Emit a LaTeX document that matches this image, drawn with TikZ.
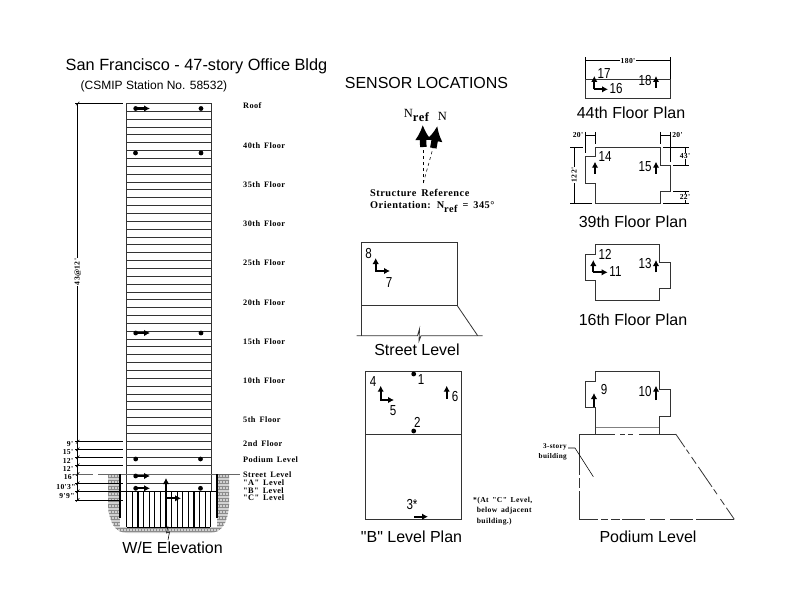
\documentclass[tikz,border=0pt]{standalone}
\usepackage{fontspec}
\setmainfont{Liberation Sans}
\newfontfamily\plainfont{Liberation Sans}
\newfontfamily\numfont{Liberation Sans}[FakeStretch=0.8]
\newfontfamily\labelfont{Liberation Serif}[LetterSpace=5,WordSpace=1.6,BoldFont={Liberation Serif Bold}]
\usetikzlibrary{arrows.meta,positioning}
\tikzset{
  plan/.style={draw=black!80, line width=0.8bp},
  thin line/.style={draw=black, line width=0.55bp},
  sensor/.style={-{Latex[length=6bp, width=6.5bp]}, line width=2.1bp, draw=black},
  north arrow/.style={-{Latex[length=15bp, width=16.5bp]}, line width=6.5bp},
  dot/.style={circle, fill=black, inner sep=0pt, minimum size=4.8bp},
  title/.style={font=\plainfont\fontsize{16bp}{18bp}\selectfont, inner sep=0pt},
  num/.style={font=\numfont\fontsize{14.5bp}{16bp}\selectfont, inner sep=0pt},
  floorlabel/.style={font=\labelfont\bfseries\fontsize{8.3bp}{9bp}\selectfont, anchor=west, inner sep=0pt},
  dimlabel/.style={font=\labelfont\bfseries\fontsize{7.6bp}{9bp}\selectfont, inner sep=0.6bp},
  notelabel/.style={font=\labelfont\bfseries\fontsize{7.6bp}{10.4bp}\selectfont, inner sep=0pt, align=left}
}
\newcommand{\refsub}{\raisebox{-4bp}{\bfseries ref}}
\begin{document}
\begin{tikzpicture}[x=1bp, y=-1bp]
\useasboundingbox (0,0) rectangle (792,612);
\fill[white] (0,0) rectangle (792,612);
% titles
\node[title, font=\fontsize{16.3bp}{18bp}\selectfont] (title1) at (196.5,66) {San Francisco - 47-story Office Bldg};
\node[font=\fontsize{12bp}{14bp}\selectfont, inner sep=0pt] (station) at (154,86) {(CSMIP Station No. 58532)};
\node[title] (title2) at (426.5,83) {SENSOR LOCATIONS};
% ground around the basement
\begin{scope}
\clip (108,474) -- (108,505) .. controls (109,522) and (115,533) .. (127,533) -- (210,533) .. controls (222,533) and (228,522) .. (229,505) -- (229,474) -- cycle;
\fill[black!18] (100,470) rectangle (235,536);
\foreach \i in {0,...,20} \draw[black!45, line width=0.6bp] (100,474+\i*3) -- (235,474+\i*3);
\foreach \i in {0,...,45} \draw[black!45, line width=0.6bp, dash pattern=on 3bp off 3bp] (102+\i*3,474) -- (102+\i*3,536);
\end{scope}
\fill[white] (120,474) rectangle (217.3,527);
% elevation
\foreach \i in {0,...,43} \draw[plan] (126.5,103.5+\i*7.85) -- (211,103.5+\i*7.85);
\foreach \y in {449.3,457.3,465.3,483.3} \draw[plan] (126.5,\y) -- (211,\y);
\draw[plan] (126.5,103.5) -- (126.5,491.5);
\draw[plan] (211,103.5) -- (211,491.5);
\draw[draw=black!60, line width=0.8bp] (98,474) -- (240,474);
\draw[draw=black!60, line width=0.8bp, dash pattern=on 20bp off 5bp] (73,474) -- (98,474);
\draw[line width=2.2bp] (120,474) -- (120,518);
\draw[line width=2.2bp] (217.3,474) -- (217.3,518);
\draw[line width=1.2bp] (120,491.5) -- (217.3,491.5);
\foreach \i in {0,...,15} \draw[line width=1.2bp] (126.7+\i*5.6,491.5) -- (126.7+\i*5.6,527);
\draw[thin line] (127,527) -- (210,527);
\draw[thin line] (168,526) -- (166.5,533) -- (169.5,532) -- (168,540);
% height dimensions
\draw[thin line] (77.7,103.5) -- (77.7,500);
\draw[thin line] (75,103.5) -- (123,103.5);
\foreach \y in {441.7,449.3,457.3,465.3,483.3,491.3,500} \draw[thin line] (75,\y) -- (123,\y);
\foreach \y in {103.5,441.7,449.3,457.3,465.3,474,483.3,491.3,500} \draw[thin line] (76,\y+1.8) -- (79.4,\y-1.8);
\node[dimlabel, rotate=90, fill=white] (typical) at (77.7,272) {43@12'};
\node[dimlabel] (dim1) at (70,444) {9'};
\node[dimlabel] (dim2) at (68,452) {15'};
\node[dimlabel] (dim3) at (68,461) {12'};
\node[dimlabel] (dim4) at (68,469) {12'};
\node[dimlabel] (dim5) at (69,477) {16'};
\node[dimlabel] (dim6) at (66,487) {10'3"};
\node[dimlabel] (dim7) at (67,496) {9'9"};
% floor names
\foreach \y/\txt in {105/Roof,145/40th Floor,184/35th Floor,223/30th Floor,262/25th Floor,302/20th Floor,341/15th Floor,380/10th Floor,419/5th Floor,443/2nd Floor,459/Podium Level,474/Street Level,482/"A" Level,489.5/"B" Level,497/"C" Level}
  \node[floorlabel] at (243,\y+1) {\txt};
% sensors on the elevation
\foreach \y in {108.5,333,476,488.3} {
  \node[dot] at (135.7,\y) {};
  \draw[sensor] (135.7,\y) -- (150,\y);
}
\foreach \x/\y in {201/108.5,135.5/153,201/153,201/333,135.7/459,200.5/459,200.5/488.3} \node[dot] at (\x,\y) {};
\draw[sensor] (166,492) -- (166,478);
\draw[line width=1.2bp] (166,491) -- (166,498);
\draw[sensor] (166,498.3) -- (181,498.3);
\node[title] (elev) at (172.5,548) {W/E Elevation};
% north arrows
\draw[thin line, dashed] (423.3,183) -- (423.3,146);
\draw[thin line, dashed] (423.3,183) -- (433.3,147);
\draw[north arrow] (423.3,147) -- (422.7,125);
\draw[north arrow] (433.3,148) -- (437.3,126);
\node[font=\labelfont\fontsize{12.5bp}{13bp}\selectfont, inner sep=0pt] (nref) at (416.5,115) {N\refsub};
\node[font=\labelfont\fontsize{12.5bp}{13bp}\selectfont, inner sep=0pt] (nnorth) at (442.5,116) {N};
\node[notelabel, font=\labelfont\bfseries\fontsize{10.3bp}{12bp}\selectfont, anchor=north west] (orient) at (370,189.5) {Structure Reference\\Orientation: N\refsub{} = 345°};
% street level
\draw[plan] (361.7,335.7) -- (361.7,242.3) -- (457.3,242.3) -- (457.3,305.7) -- (361.7,305.7);
\draw[plan] (457.3,305.7) -- (477.7,335.7);
\draw[plan] (356.7,335.7) -- (417.5,335.7) -- (419.5,329) -- (419,341) -- (421,335.7) -- (482.7,335.7);
\draw[sensor] (375.7,271) -- (375.7,258);
\draw[sensor] (375,271) -- (390,271);
\node[num] (s8) at (368.5,254) {8};
\node[num] (s7) at (389,282.5) {7};
\node[title] (title3) at (417,350) {Street Level};
% B level
\draw[plan] (365.7,371) rectangle (461.3,519);
\draw[plan] (365.7,434) -- (461.3,434);
\node[dot] (d1) at (413.7,374) {};
\node[dot] (d2) at (413.7,431) {};
\node[num] (s1) at (421,380) {1};
\node[num] (s2) at (417.3,422) {2};
\node[num] (s4) at (373,382) {4};
\node[num] (s5) at (393,411) {5};
\node[num] (s6) at (455,397) {6};
\node[num] (s3) at (412,505) {3*};
\draw[sensor] (380.7,400) -- (380.7,385.7);
\draw[sensor] (380,400) -- (394,400);
\draw[sensor] (446.7,398.5) -- (446.7,385.7);
\draw[sensor] (414,516.7) -- (428,516.7);
\node[notelabel, anchor=north west] (note) at (473,497) {*(At "C" Level,\\\ below adjacent\\\ building.)};
\node[title] (title4) at (411.5,537) {"B" Level Plan};
% 44th floor
\draw[plan] (585.7,79.3) rectangle (670,98.3);
\draw[thin line] (585.7,60.7) -- (670,60.7);
\draw[thin line] (585.7,57.5) -- (585.7,79);
\draw[thin line] (670,57.5) -- (670,79);
\node[dimlabel, fill=white] (d180) at (628,60.7) {180'};
\draw[sensor] (594.3,89.3) -- (594.3,76);
\draw[sensor] (593.6,89.3) -- (608,89.3);
\draw[sensor] (656,88) -- (656,76);
\node[num] (s17) at (604,73.5) {17};
\node[num] (s16) at (616,89) {16};
\node[num] (s18) at (645,81) {18};
\node[title] (title5) at (631,113) {44th Floor Plan};
% 39th floor
\draw[plan] (595.7,147.3) -- (660,147.3) -- (660,165) -- (670,165) -- (670,191) -- (660,191) -- (660,203.3) -- (595.7,203.3) -- (595.7,183.3) -- (585.7,183.3) -- (585.7,156.7) -- (595.7,156.7) -- cycle;
\draw[thin line] (585.7,135) -- (595.7,135);
\draw[thin line] (660,135) -- (670,135);
\draw[thin line] (585.7,132) -- (585.7,153);
\draw[thin line] (595.7,132) -- (595.7,144);
\draw[thin line] (660,132) -- (660,144);
\draw[thin line] (670,132) -- (670,162);
\draw[thin line] (574,147.3) -- (574,203.3);
\draw[thin line] (570,147.3) -- (583,147.3);
\draw[thin line] (570,203.3) -- (592,203.3);
\draw[thin line] (685.7,147.3) -- (685.7,165);
\draw[thin line] (685.7,191) -- (685.7,203.3);
\draw[thin line] (663,147.3) -- (689,147.3);
\draw[thin line] (673,165) -- (689,165);
\draw[thin line] (673,191) -- (689,191);
\draw[thin line] (663,203.3) -- (689,203.3);
\node[dimlabel] (d20a) at (578,135) {20'};
\node[dimlabel] (d20b) at (677.5,135) {20'};
\node[dimlabel, rotate=90, fill=white] (d122) at (574,175) {122'};
\node[dimlabel, fill=white] (d43) at (685,156) {43'};
\node[dimlabel, fill=white] (d22) at (685,197) {22'};
\draw[sensor] (595,174) -- (595,161.7);
\draw[sensor] (656,174) -- (656,161.7);
\node[num] (s14) at (605,156.5) {14};
\node[num] (s15) at (645,167) {15};
\node[title] (title6) at (633,222) {39th Floor Plan};
% 16th floor
\draw[plan] (595.7,244.3) -- (659.3,244.3) -- (659.3,262.3) -- (670,262.3) -- (670,288.3) -- (659.3,288.3) -- (659.3,300.7) -- (595.7,300.7) -- (595.7,280) -- (585.7,280) -- (585.7,254.3) -- (595.7,254.3) -- cycle;
\draw[sensor] (593.3,272.3) -- (593.3,260);
\draw[sensor] (592.6,272.3) -- (607.7,272.3);
\draw[sensor] (656,272.3) -- (656,260);
\node[num] (s12) at (605,254) {12};
\node[num] (s11) at (615.5,272) {11};
\node[num] (s13) at (645,264) {13};
\node[title] (title7) at (633,320) {16th Floor Plan};
% podium
\draw[plan] (595.7,434) -- (595.7,407.7) -- (585.7,407.7) -- (585.7,381) -- (595.7,381) -- (595.7,371.7) -- (659.3,371.7) -- (659.3,389.3) -- (670,389.3) -- (670,416) -- (659.3,416) -- (659.3,434);
\draw[draw=black!50, line width=0.8bp] (595.7,427.7) -- (659.3,427.7);
\draw[plan, dash pattern=on 35.7bp off 5bp on 5bp off 3bp on 5bp off 6bp on 200bp] (579.3,434) -- (675.7,434);
\draw[plan, dash pattern=on 41bp off 3bp on 10bp off 3bp on 100bp] (579.3,434) -- (579.3,519.3);
\draw[plan, dash pattern=on 19bp off 3bp on 7bp off 3bp on 9bp off 2bp on 23bp off 5bp on 15bp off 5bp on 23bp off 3bp on 100bp] (579.3,519.3) -- (734.3,519.3);
\draw[plan, dash pattern=on 16bp off 3bp on 5bp off 4bp on 8bp off 4bp on 24bp off 3bp on 6bp off 6bp on 7bp off 3.5bp on 20bp] (675.7,434) -- (734.3,519.3);
\draw[thin line] (568,448) -- (575,448) -- (593.3,476.7);
\node[notelabel, font=\labelfont\bfseries\fontsize{7.2bp}{10bp}\selectfont, align=right, anchor=east] (bldg3) at (567,452) {3-story\\building};
\draw[sensor] (594,406.7) -- (594,393);
\draw[sensor] (656,400) -- (656,385.7);
\node[num] (s9) at (604,390) {9};
\node[num] (s10) at (645,391.5) {10};
\node[title] (title8) at (648,537) {Podium Level};
\end{tikzpicture}
\end{document}
